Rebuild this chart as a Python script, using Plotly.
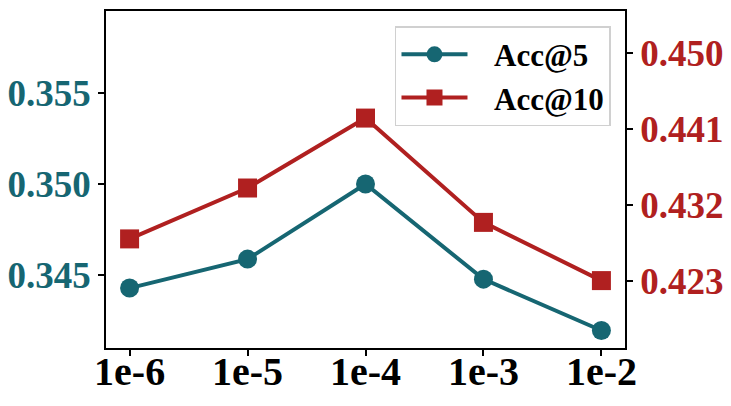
import plotly.graph_objects as go

lr = ['1e-6', '1e-5', '1e-4', '1e-3', '1e-2']
acc5 = [0.34429, 0.34588, 0.35000, 0.34478, 0.34196]
acc10 = [0.42795, 0.43399, 0.44229, 0.42991, 0.42300]
left_ticks = [0.345, 0.350, 0.355]
right_ticks = [0.423, 0.432, 0.441, 0.450]

teal = '#166672'
red = '#B02020'
font = 'Liberation Serif'

fig = go.Figure()
fig.add_trace(go.Scatter(
    x=lr, y=acc5, name='   Acc@5', mode='lines+markers',
    line=dict(color=teal, width=4),
    marker=dict(symbol='circle', size=19, color=teal),
))
fig.add_trace(go.Scatter(
    x=lr, y=acc10, name='   Acc@10', mode='lines+markers', yaxis='y2',
    line=dict(color=red, width=4),
    marker=dict(symbol='square', size=19, color=red),
))

axis_common = dict(
    showline=True, linecolor='black', linewidth=1.5,
    ticks='outside', ticklen=6, tickcolor='black', tickwidth=1.5,
    showgrid=False, zeroline=False, automargin=False,
)

# page body adds an 8px offset, so the figure is 8px smaller and shifted
fig.update_layout(
    width=723, height=398,
    margin=dict(l=98, r=106, t=3, b=58),
    plot_bgcolor='white', paper_bgcolor='white',
    showlegend=True,
    font=dict(family=font),
    xaxis=dict(
        type='category', range=[-0.2, 4.2], mirror=True,
        tickfont=dict(family=font, size=40, color='black', weight='bold'),
        ticklabelstandoff=-19,
        **axis_common,
    ),
    yaxis=dict(
        range=[0.3410, 0.3595], tickvals=left_ticks, tickformat='.3f',
        tickfont=dict(family=font, size=37, color=teal, weight='bold'),
        **axis_common,
    ),
    yaxis2=dict(
        overlaying='y', side='right',
        range=[0.4150, 0.4550], tickvals=right_ticks, tickformat='.3f',
        tickfont=dict(family=font, size=37, color=red, weight='bold'),
        **axis_common,
    ),
    legend=dict(
        x=0.973, y=0.955, xanchor='right', yanchor='top',
        bgcolor='white', bordercolor='#d0d0d0', borderwidth=1.5,
        font=dict(family=font, size=31, color='black', weight='bold'),
        itemwidth=66, tracegroupgap=0,
    ),
)

fig.write_html('out.html')
